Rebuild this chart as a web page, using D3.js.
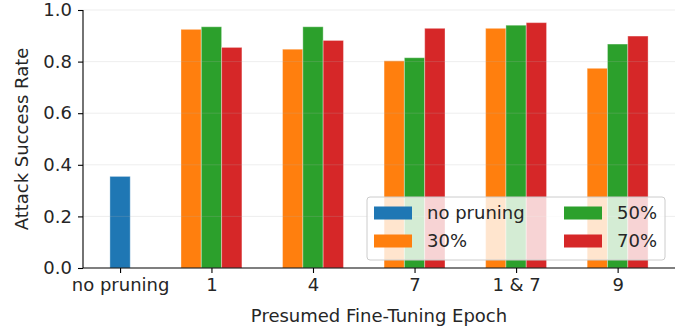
<!DOCTYPE html>
<html>
<head>
<meta charset="utf-8">
<script src="https://cdn.jsdelivr.net/npm/d3@7"></script>
<style>
  body { margin: 0; background: #fff; }
  svg text { font-family: "DejaVu Sans", sans-serif; fill: #262626; }
</style>
</head>
<body>
<svg id="chart" width="691" height="333"></svg>
<script>
// categories on the x axis and where they sit (group units)
const categories = ["no pruning", "1", "4", "7", "1 & 7", "9"];
const catPos = [-0.9, 0, 1, 2, 3, 4];

// attack success rate per setting
const noPruning = [0.355];
const pruned30 = [0.925, 0.848, 0.803, 0.929, 0.774];
const pruned50 = [0.935, 0.935, 0.815, 0.941, 0.868];
const pruned70 = [0.855, 0.882, 0.929, 0.951, 0.899];

const yTicks = [0, 0.2, 0.4, 0.6, 0.8, 1.0];
const seriesNames = ["no pruning", "30%", "50%", "70%"];
const colors = ["#1f77b4", "#ff7f0e", "#2ca02c", "#d62728"];

const barW = 0.2;
const plotL = 83, plotR = 675, plotT = 10, plotB = 268;

// x limits like matplotlib: data extent plus 5% margin
var lo = catPos[0] - barW / 2, hi = catPos[catPos.length - 1] + 1.5 * barW;
var pad = (hi - lo) * 0.05;
const x = d3.scaleLinear().domain([lo - pad, hi + pad]).range([plotL, plotR]);
const y = d3.scaleLinear().domain([0, 1]).range([plotB, plotT]);

const svg = d3.select("#chart");

// bar records: position, value, colour index
var bars = [];
bars.push({ pos: catPos[0], val: noPruning[0], c: 0 });
[pruned30, pruned50, pruned70].forEach(function (vals, s) {
  vals.forEach(function (v, i) {
    bars.push({ pos: catPos[i + 1] + (s - 1) * barW, val: v, c: s + 1 });
  });
});

svg.append("g").selectAll("rect")
  .data(bars)
  .enter().append("rect")
  .attr("x", d => x(d.pos - barW / 2))
  .attr("width", d => x(d.pos + barW / 2) - x(d.pos - barW / 2))
  .attr("y", d => y(d.val))
  .attr("height", d => y(0) - y(d.val))
  .attr("fill", d => colors[d.c])
  .attr("stroke", "#ffffff")
  .attr("stroke-opacity", 0.35)
  .attr("stroke-width", 1);

// light horizontal grid over the bars
svg.append("g").selectAll("line")
  .data(yTicks.slice(1))
  .enter().append("line")
  .attr("x1", plotL).attr("x2", plotR)
  .attr("y1", d => y(d)).attr("y2", d => y(d))
  .attr("stroke", "#b0b0b0")
  .attr("stroke-opacity", 0.22)
  .attr("stroke-width", 1);

// axes
const yAxis = d3.axisLeft(y).tickValues(yTicks).tickFormat(d3.format(".1f")).tickSize(5).tickPadding(6);
const xAxis = d3.axisBottom(x).tickValues(catPos).tickFormat((d, i) => categories[i]).tickSize(5).tickPadding(5);

var gy = svg.append("g").attr("transform", "translate(" + plotL + ",0)").call(yAxis);
var gx = svg.append("g").attr("transform", "translate(0," + plotB + ")").call(xAxis);
[gx, gy].forEach(function (g) {
  g.select(".domain").attr("stroke", "#000").attr("stroke-width", 1.1);
  g.selectAll(".tick line").attr("stroke", "#000").attr("stroke-width", 1.1);
  g.selectAll(".tick text").attr("font-size", 18).attr("fill", "#262626");
});
gy.select(".domain").attr("d", "M0," + plotB + "V" + plotT);
gx.select(".domain").attr("d", "M" + plotL + ",0H" + plotR);

// axis titles
svg.append("text")
  .attr("x", (plotL + plotR) / 2)
  .attr("y", 322)
  .attr("text-anchor", "middle")
  .attr("font-size", 18)
  .text("Presumed Fine-Tuning Epoch");

svg.append("text")
  .attr("transform", "translate(28," + (plotT + plotB) / 2 + ") rotate(-90)")
  .attr("text-anchor", "middle")
  .attr("font-size", 18)
  .text("Attack Success Rate");

// legend, two columns
var legend = svg.append("g").attr("transform", "translate(367,197)");
legend.append("rect")
  .attr("width", 298).attr("height", 63)
  .attr("rx", 3)
  .attr("fill", "#ffffff").attr("fill-opacity", 0.8)
  .attr("stroke", "#cccccc").attr("stroke-width", 1);

var legendCells = [
  { name: seriesNames[0], c: 0, col: 0, row: 0 },
  { name: seriesNames[1], c: 1, col: 0, row: 1 },
  { name: seriesNames[2], c: 2, col: 1, row: 0 },
  { name: seriesNames[3], c: 3, col: 1, row: 1 }
];
var item = legend.selectAll("g.item")
  .data(legendCells)
  .enter().append("g")
  .attr("class", "item")
  .attr("transform", d => "translate(" + (7 + d.col * 190) + "," + (16 + d.row * 28) + ")");
item.append("rect")
  .attr("x", 0).attr("y", -6.5)
  .attr("width", 38).attr("height", 13)
  .attr("fill", d => colors[d.c]);
item.append("text")
  .attr("x", 53)
  .attr("dy", "0.35em")
  .attr("font-size", 18)
  .text(d => d.name);
</script>
</body>
</html>
